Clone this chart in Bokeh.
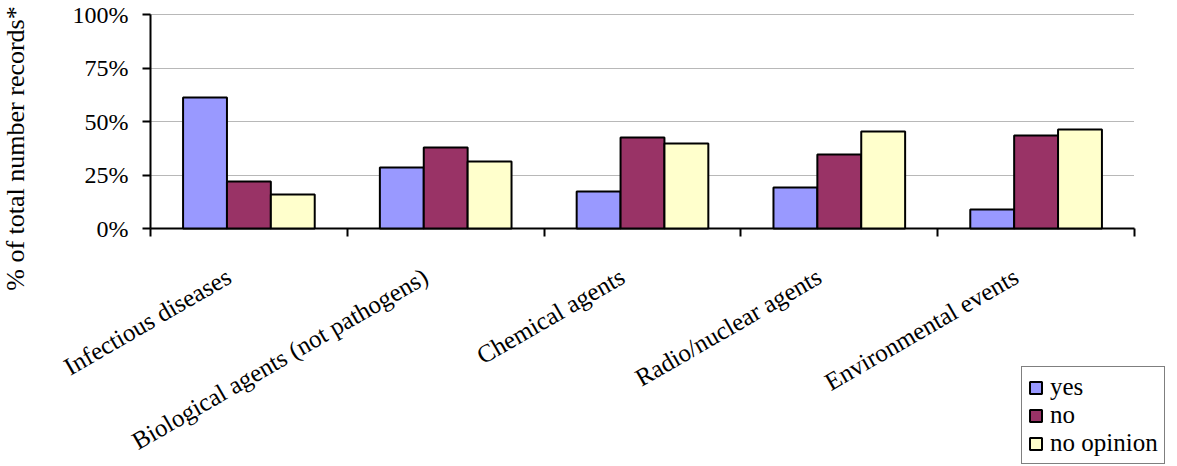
import math
from bokeh.plotting import figure
from bokeh.models import (Range1d, FixedTicker, NumeralTickFormatter, Legend, LegendItem,
                          ColumnDataSource, Grid, InlineStyleSheet)
from bokeh.core.properties import value
from bokeh.transform import dodge
from bokeh.embed import file_html
from bokeh.resources import INLINE

categories = ["Infectious diseases", "Biological agents (not pathogens)", "Chemical agents",
              "Radio/nuclear agents", "Environmental events"]
yes = [0.612, 0.285, 0.173, 0.192, 0.089]
no = [0.220, 0.379, 0.425, 0.346, 0.435]
no_opinion = [0.159, 0.313, 0.397, 0.453, 0.463]
y_ticks = [0, 0.25, 0.5, 0.75, 1.0]
series_names = ["yes", "no", "no opinion"]
series_colors = ["#9999FF", "#993366", "#FFFFCC"]

FONT = "Liberation Serif"

# layout (pixels): the frame covers the whole canvas, the axes are pinned inside it
W, H = 1177, 466
AX_X, ZERO_Y = 150, 228           # screen position of the y axis and of the 0% line
PLOT_W, PLOT_H = 984, 214         # width of the 5 categories, height of 0..100%
n = len(categories)
px_x = PLOT_W / n
px_y = PLOT_H / 1.0
tick_len = 8 / px_y

centers = [i + 0.5 for i in range(n)]
src = ColumnDataSource(dict(x=centers, cat=categories, yes=yes, no=no, no_opinion=no_opinion))

p = figure(x_range=Range1d(-AX_X / px_x, (W - AX_X) / px_x),
           y_range=Range1d(-(H - ZERO_Y) / px_y, ZERO_Y / px_y),
           frame_width=W, frame_height=H,
           min_border_left=0, min_border_right=0, min_border_top=0, min_border_bottom=0,
           x_axis_location=None, output_backend="svg", toolbar_location=None)
p.stylesheets = [InlineStyleSheet(css="text { font-family: 'Liberation Serif', 'DejaVu Serif', serif !important; }")]
p.outline_line_color = None
p.background_fill_color = "white"
p.border_fill_color = "white"
p.xgrid.grid_line_color = None

# y axis, pinned at x = 0 (its line is drawn by a bounded grid below)
yax = p.yaxis[0]
yax.fixed_location = 0
yax.ticker = FixedTicker(ticks=y_ticks)
yax.formatter = NumeralTickFormatter(format="0%")
yax.bounds = (-0.2523, 1)          # centres the axis title as in the original
yax.axis_line_color = None
yax.major_label_text_font = FONT
yax.major_label_text_font_size = "24px"
yax.major_label_text_color = "black"
yax.major_label_standoff = 14
yax.major_tick_in = 0
yax.major_tick_out = 8
yax.major_tick_line_width = 2
yax.major_tick_line_color = "black"
yax.minor_tick_line_color = None
yax.axis_label = "% of total number records*"
yax.axis_label_text_font = FONT
yax.axis_label_text_font_size = "26px"
yax.axis_label_text_font_style = "normal"
yax.axis_label_text_color = "black"
yax.axis_label_standoff = 40

# dotted horizontal grid
g = p.ygrid[0]
g.ticker = FixedTicker(ticks=y_ticks[1:])
g.grid_line_color = "#707070"
g.grid_line_dash = "1 1"
g.grid_line_width = 1
g.cross_bounds = (0, n)

# axis lines and category boundary ticks
p.add_layout(Grid(dimension=0, ticker=FixedTicker(ticks=[0]), cross_bounds=(0, 1),
                  grid_line_color="black", grid_line_width=2))
p.add_layout(Grid(dimension=1, ticker=FixedTicker(ticks=[0]), cross_bounds=(0, n),
                  grid_line_color="black", grid_line_width=2))
p.add_layout(Grid(dimension=0, ticker=FixedTicker(ticks=list(range(n + 1))),
                  cross_bounds=(-tick_len, 0), grid_line_color="black", grid_line_width=2))

w = 0.223
renderers = []
for off, col, color in zip([-w, 0, w], ["yes", "no", "no_opinion"], series_colors):
    r = p.vbar(x=dodge("x", off), top=col, width=w, source=src,
               fill_color=color, line_color="black", line_width=2)
    renderers.append(r)

# rotated category labels
p.text(x="x", y=0, text="cat", source=src, angle=math.radians(30),
       text_align="right", text_baseline="alphabetic", x_offset=-20, y_offset=46,
       text_font=value(FONT), text_font_size="25px", text_color="black")

legend = Legend(items=[LegendItem(label=s, renderers=[r]) for s, r in zip(series_names, renderers)],
                location=(1021, 2), orientation="vertical",
                label_text_font=FONT, label_text_font_size="25px", label_text_color="black",
                glyph_width=15, glyph_height=15, label_height=24, spacing=0, padding=6,
                margin=0, border_line_color="black", border_line_width=1.5,
                background_fill_color="white", background_fill_alpha=1, label_standoff=7)
p.add_layout(legend, "center")

open("out.html", "w").write(file_html(p, INLINE))
